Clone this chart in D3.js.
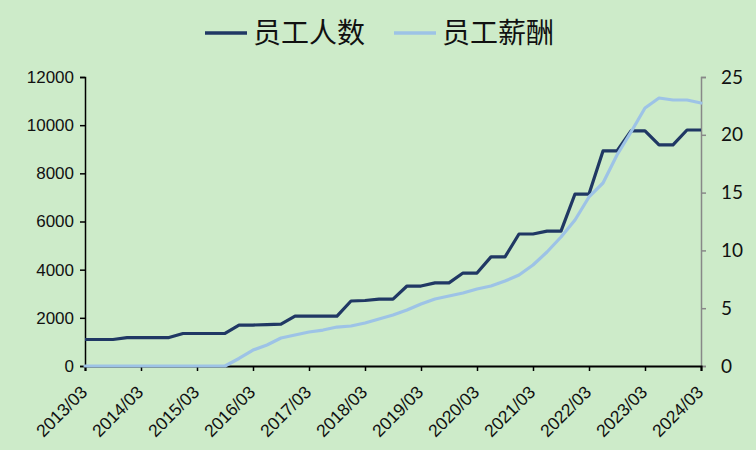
<!DOCTYPE html>
<html><head><meta charset="utf-8">
<script src="https://cdn.jsdelivr.net/npm/d3@7"></script>
<style>
html,body{margin:0;padding:0;background:#cdebc9;}
svg{display:block;}
</style></head>
<body>
<svg id="chart" width="756" height="450"></svg>
<script>
// Quarterly categories 2013/03 .. 2024/03
const quarters = [];
for (let y = 2013; y <= 2024; y++) {
  for (const m of ["03","06","09","12"]) {
    if (y === 2024 && m !== "03") continue;
    quarters.push(y + "/" + m);
  }
}
const tickLabels = ["2013/03","2014/03","2015/03","2016/03","2017/03","2018/03","2019/03","2020/03","2021/03","2022/03","2023/03","2024/03"];
const leftTicks = [0,2000,4000,6000,8000,10000,12000];
const rightTicks = [0,5,10,15,20,25];

// 员工人数 (left axis)
const staff = [1100,1100,1100,1180,1180,1180,1180,1350,1350,1350,1350,
  1700,1700,1720,1740,2070,2070,2070,2070,2700,2720,2780,2780,3320,3320,3450,3450,
  3860,3860,4530,4530,5480,5480,5600,5600,7140,7140,8930,8930,9760,9760,9180,9180,9800,9800];
// 员工薪酬 (right axis)
const pay = [0,0,0,0,0,0,0,0,0,0,0,
  0.65,1.38,1.82,2.42,2.68,2.94,3.11,3.37,3.46,3.72,4.07,4.41,4.84,5.36,5.80,6.06,
  6.31,6.66,6.92,7.35,7.87,8.74,9.86,11.16,12.63,14.62,15.83,18.25,20.24,22.32,23.18,23.01,23.01,22.75];

const series = [
  {name:"员工人数", color:"#203864"},
  {name:"员工薪酬", color:"#9dc3e6"}
];

const svg = d3.select("#chart");
const x0 = 85, x1 = 701, yTop = 77, yBot = 366;

const x = d3.scalePoint().domain(quarters).range([x0, x1]);
const yL = d3.scaleLinear().domain([0,12000]).range([yBot, yTop]);
const yR = d3.scaleLinear().domain([0,25]).range([yBot, yTop]);

// Left axis
const gL = svg.append("g").attr("transform", `translate(${x0},0)`)
  .call(d3.axisLeft(yL).tickValues(leftTicks).tickSize(5).tickPadding(6).tickFormat(d3.format("d")));
gL.select(".domain").attr("stroke","#000").attr("stroke-width",1.5);
gL.selectAll(".tick line").attr("stroke","#000").attr("stroke-width",1.5);
gL.selectAll("text").attr("font-family","'Liberation Sans', Arial, sans-serif").attr("font-size",17).attr("fill","#111");

// Right axis
const gR = svg.append("g").attr("transform", `translate(${x1},0)`)
  .call(d3.axisRight(yR).tickValues(rightTicks).tickSize(5).tickPadding(15));
gR.select(".domain").attr("stroke","#888").attr("stroke-width",1.5);
gR.selectAll(".tick line").attr("stroke","#888").attr("stroke-width",1.5);
gR.selectAll("text").attr("font-family","Lato, 'Open Sans', sans-serif").attr("font-size",19).attr("fill","#111");

// X axis
const gX = svg.append("g").attr("transform", `translate(0,${yBot})`)
  .call(d3.axisBottom(x).tickValues(tickLabels).tickSize(5).tickFormat(""));
gX.select(".domain").attr("stroke","#000").attr("stroke-width",2);
gX.selectAll(".tick line").attr("stroke","#000").attr("stroke-width",1.5);

// Lines
const lineL = d3.line().x((d,i)=>x(quarters[i])).y(d=>yL(d));
const lineR = d3.line().x((d,i)=>x(quarters[i])).y(d=>yR(d));

svg.append("path").datum(staff).attr("d", lineL).attr("fill","none")
  .attr("stroke", series[0].color).attr("stroke-width",3.2).attr("stroke-linejoin","round").attr("stroke-linecap","butt");

svg.append("path").datum(pay).attr("d", lineR).attr("fill","none")
  .attr("stroke", series[1].color).attr("stroke-width",3.2).attr("stroke-linejoin","round").attr("stroke-linecap","round");

// X labels rotated
svg.append("g").selectAll("text").data(tickLabels).join("text")
  .attr("transform", d => `translate(${x(d)-1},${yBot+23}) rotate(-45)`)
  .attr("text-anchor","end")
  .attr("dy","0.35em")
  .attr("font-family","'Liberation Sans', Arial, sans-serif")
  .attr("font-size",17.5).attr("fill","#111")
  .text(d=>d);

// Legend
const leg = svg.append("g");
const legPos = [{lx:205, tx:253},{lx:394, tx:442}];
series.forEach((s,i)=>{
  leg.append("line").attr("x1",legPos[i].lx).attr("x2",legPos[i].lx+42).attr("y1",33).attr("y2",33)
    .attr("stroke",s.color).attr("stroke-width",3.5);
  leg.append("text").attr("x",legPos[i].tx).attr("y",33).attr("dy","0.36em")
    .attr("font-family","'Noto Sans CJK SC', sans-serif").attr("font-size",28).attr("fill","#111")
    .text(s.name);
});
</script>
</body></html>
